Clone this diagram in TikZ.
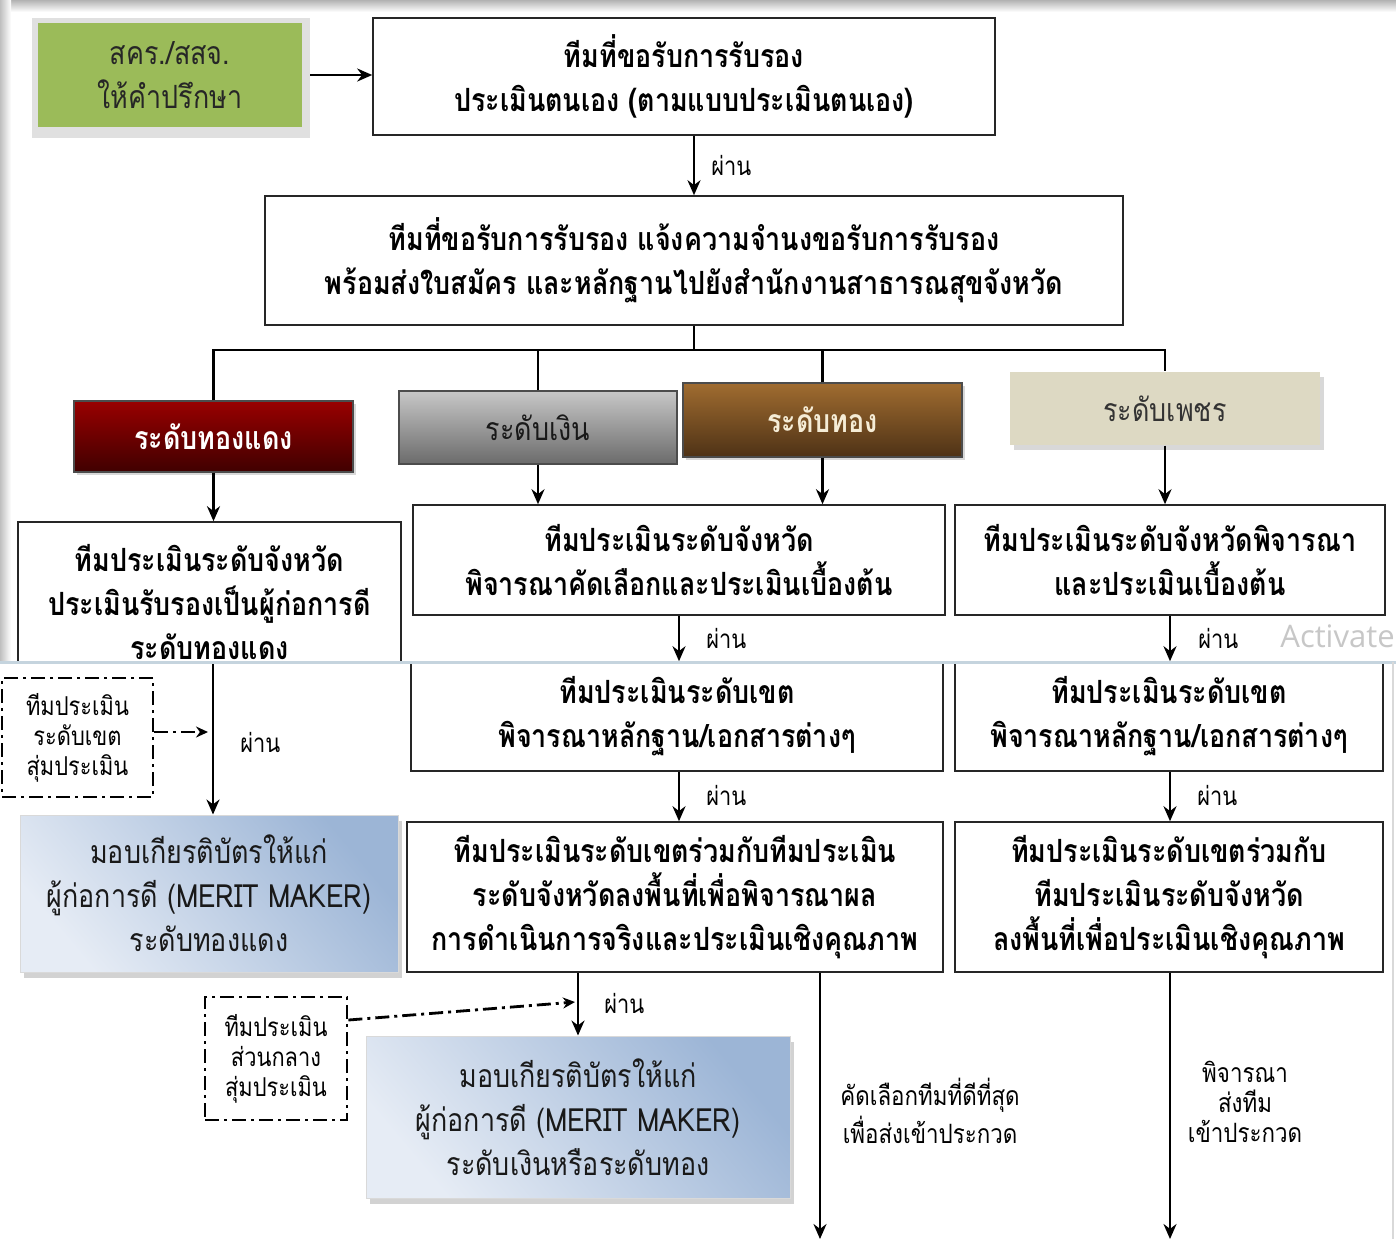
\documentclass[tikz,border=0pt]{standalone}
\usepackage{fontspec}
\setmainfont{Loma}[Script=Thai, FakeStretch=0.84]
\newfontfamily\actfont{Open Sans}
\usetikzlibrary{arrows.meta,shadows,calc}
\definecolor{olive}{HTML}{9BBB59}
\definecolor{beige}{HTML}{DDD9C3}
\definecolor{divc}{HTML}{C5D4DE}
\definecolor{cream}{HTML}{F5ECD6}
\definecolor{meritL}{HTML}{E6ECF5}
\definecolor{meritD}{HTML}{9CB5D6}
\tikzset{
  rect/.style args={#1/#2/#3/#4}{at={({(#1+#3)/2},{(#2+#4)/2})}, anchor=center,
    minimum width={(#3-#1)*0.5pt}, minimum height={(#4-#2)*0.5pt}},
  box/.style={draw=black!85, line width=0.8pt, fill=white, inner sep=0pt, align=center,
    font=\fontsize{16}{22}\selectfont\bfseries},
  lvl/.style={draw=black!70, line width=0.6pt, inner sep=0pt, align=center,
    font=\fontsize{16}{22}\selectfont\bfseries},
  merit/.style={draw=black!15, line width=0.5pt, inner sep=0pt, align=center,
    top color=meritD, bottom color=meritL, shading angle=-50, text=black!90,
    drop shadow={shadow xshift=2pt, shadow yshift=-3pt, opacity=0.35},
    font=\fontsize{16}{22}\selectfont},
  dbox/.style={draw=black, line width=1.4pt, dash pattern=on 7pt off 2.5pt on 1.5pt off 2.5pt,
    inner sep=0pt, align=center, font=\fontsize{13}{15}\selectfont},
  arr/.style={line width=1.4pt, -{Stealth[length=7.5pt,width=6.5pt]}},
  ln/.style={line width=1.4pt},
  darr/.style={line width=1.4pt, dash pattern=on 7pt off 2.5pt on 1.5pt off 2.5pt, -{Stealth[length=6pt,width=5.5pt]}},
  pass/.style={font=\fontsize{13}{14}\selectfont, inner sep=0pt},
  note/.style={inner sep=0pt, align=center},
}
\begin{document}
\begin{tikzpicture}[x=0.5pt,y=-0.5pt]
\useasboundingbox (0,0) rectangle (1396,1239);
\fill[white] (0,0) rectangle (1396,1239);
% screenshot frame
\shade[top color=black!30, bottom color=white] (0,0) rectangle (1396,12);
\shade[left color=black!25, right color=white] (0,0) rectangle (11,662);

% top
\fill[black!12] (32,18) rectangle (310,138);
\node[rect=38/23/302/127, inner sep=0pt, fill=olive, align=center,
  font=\fontsize{16}{22}\selectfont, text=black!85] (adv) {สคร./สสจ.\\ให้คำปรึกษา};
\node[box, rect=373/18/995/135] (b1) {ทีมที่ขอรับการรับรอง\\ประเมินตนเอง (ตามแบบประเมินตนเอง)};
\node[box, rect=265/196/1123/325] (b2) {ทีมที่ขอรับการรับรอง แจ้งความจำนงขอรับการรับรอง\\พร้อมส่งใบสมัคร และหลักฐานไปยังสำนักงานสาธารณสุขจังหวัด};

% levels
\node[lvl, rect=74/401/353/472, top color=red!60!black, bottom color=red!25!black,
  text=white, drop shadow={shadow xshift=1.5pt, shadow yshift=-1.5pt, opacity=0.3}] (red) {ระดับทองแดง};
\node[lvl, rect=399/391/677/464, top color=black!22, bottom color=black!58,
  text=black!90, font=\fontsize{16}{22}\selectfont] (silver) {ระดับเงิน};
\node[lvl, rect=683/383/962/457, top color={rgb,255:red,160;green,108;blue,48}, bottom color={rgb,255:red,78;green,50;blue,22},
  text=cream, drop shadow={shadow xshift=1.5pt, shadow yshift=-1.5pt, opacity=0.3}] (gold) {ระดับทอง};
\node[lvl, draw=none, rect=1010/372/1320/445, fill=beige, text=black!80,
  drop shadow={shadow xshift=2pt, shadow yshift=-2.5pt, opacity=0.3},
  font=\fontsize{16}{22}\selectfont] (diam) {ระดับเพชร};

\coordinate (hub) at (694,350);
\draw[ln] (b2.south -| hub) -- (hub);
\draw[ln] (red.north) |- (diam.north |- hub) -- (diam.north);
\draw[ln] (silver.north) -- (silver.north |- hub);
\draw[ln] (gold.north) -- (gold.north |- hub);

% provincial
\node[box, rect=18/522/401/682] (L1) {ทีมประเมินระดับจังหวัด\\ประเมินรับรองเป็นผู้ก่อการดี\\ระดับทองแดง};
\node[box, rect=413/505/945/615] (M1) {ทีมประเมินระดับจังหวัด\\พิจารณาคัดเลือกและประเมินเบื้องต้น};
\node[box, rect=955/505/1385/615] (R1) {ทีมประเมินระดับจังหวัดพิจารณา\\และประเมินเบื้องต้น};

\draw[arr] (adv.east) ++(8,0) -- (b1.west |- adv.east);
\draw[arr] (b1.south -| hub) -- (b2.north -| hub);
\node[pass, anchor=west] at (711,165) {ผ่าน};
\draw[arr] (red.south) -- (red.south |- L1.north);
\draw[arr] (silver.south) -- (silver.south |- M1.north);
\draw[arr] (gold.south) -- (gold.south |- M1.north);
\draw[arr] (diam.south) -- (diam.south |- R1.north);

% lower part of the page
\fill[white] (11,663) rectangle (1396,1239);

\node[box, rect=411/662/943/771] (M2) {ทีมประเมินระดับเขต\\พิจารณาหลักฐาน/เอกสารต่างๆ};
\node[box, rect=955/662/1383/771] (R2) {ทีมประเมินระดับเขต\\พิจารณาหลักฐาน/เอกสารต่างๆ};
\node[box, rect=407/822/943/972] (M3) {ทีมประเมินระดับเขตร่วมกับทีมประเมิน\\ระดับจังหวัดลงพื้นที่เพื่อพิจารณาผล\\การดำเนินการจริงและประเมินเชิงคุณภาพ};
\node[box, rect=955/822/1383/972] (R3) {ทีมประเมินระดับเขตร่วมกับ\\ทีมประเมินระดับจังหวัด\\ลงพื้นที่เพื่อประเมินเชิงคุณภาพ};

\draw[arr] (M1.south) -- (M1.south |- M2.north);
\node[pass, anchor=west] at (706,638) {ผ่าน};
\draw[arr] (R1.south) -- (R1.south |- R2.north);
\node[pass, anchor=west] at (1198,638) {ผ่าน};
\node[anchor=west, inner sep=0pt, text=black!22, font=\actfont\fontsize{15.5}{16}\selectfont] (act) at (1280,636) {Activate};

\draw[arr] (M2.south -| M1.south) -- (M1.south |- M3.north);
\node[pass, anchor=west] at (706,795) {ผ่าน};
\draw[arr] (R2.south -| R1.south) -- (R1.south |- R3.north);
\node[pass, anchor=west] at (1197,795) {ผ่าน};

% bronze award
\node[merit, rect=20/815/398/972] (mer1) {มอบเกียรติบัตรให้แก่\\ผู้ก่อการดี (MERIT MAKER)\\ระดับทองแดง};
\coordinate (l1b) at (213,662);
\draw[arr] (l1b) -- (l1b |- mer1.north);
\node[dbox, rect=2/678/153/797] (db1) {ทีมประเมิน\\ระดับเขต\\สุ่มประเมิน};
\draw[darr] (db1.east |- 0,732) -- (208,732);
\node[pass, anchor=west] at (240,742) {ผ่าน};

% silver/gold award
\node[merit, rect=366/1036/790/1198] (mer2) {มอบเกียรติบัตรให้แก่\\ผู้ก่อการดี (MERIT MAKER)\\ระดับเงินหรือระดับทอง};
\draw[arr] (mer2.north |- M3.south) -- (mer2.north);
\node[pass, anchor=west] at (604,1003) {ผ่าน};
\node[dbox, rect=205/997/347/1120] (db2) {ทีมประเมิน\\ส่วนกลาง\\สุ่มประเมิน};
\coordinate (db2tip) at (575,1002);
\draw[darr] (db2.east |- 0,1020) -- (db2tip);

\coordinate (endM) at (820,1239);
\coordinate (endR) at (1170,1239);
\draw[arr] (endM |- M3.south) -- (endM);
\draw[arr] (endR |- R3.south) -- (endR);
\node[note, font=\fontsize{13.3}{19}\selectfont, anchor=west] (nM) at (840,1111) {คัดเลือกทีมที่ดีที่สุด\\เพื่อส่งเข้าประกวด};
\node[note, font=\fontsize{13.3}{15}\selectfont] (nR) at (1245,1102) {พิจารณา\\ส่งทีม\\เข้าประกวด};

\draw[divc, line width=1.5pt] (0,662) -- (1396,662);
\draw[black!15, line width=0.6pt] (1393,662) -- (1393,1239);
\end{tikzpicture}
\end{document}
